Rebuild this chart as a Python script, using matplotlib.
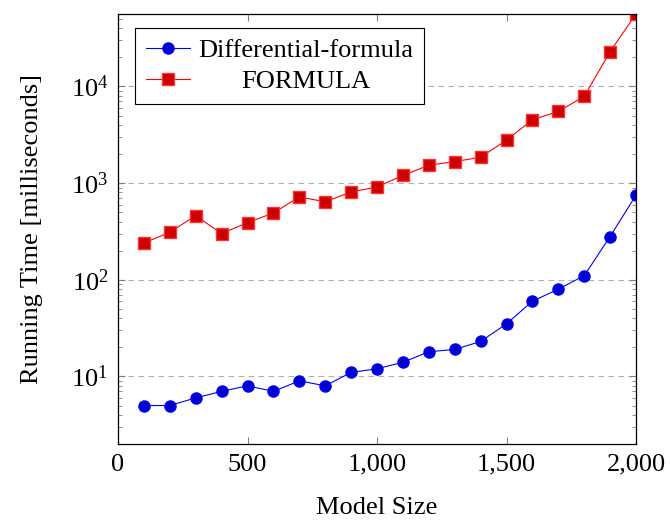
import numpy as np
import matplotlib.pyplot as plt
import matplotlib.ticker as mticker

plt.rcParams['font.family'] = ['Liberation Serif', 'DejaVu Serif']
plt.rcParams['mathtext.fontset'] = 'stix'

model_size = [100, 200, 300, 400, 500, 600, 700, 800, 900, 1000,
              1100, 1200, 1300, 1400, 1500, 1600, 1700, 1800, 1900, 2000]
diff_formula = [5, 5, 6, 7, 8, 7, 9, 8, 11, 12,
                14, 18, 19, 23, 35, 60, 80, 110, 280, 750]
formula = [240, 310, 460, 300, 390, 490, 720, 640, 810, 910,
           1200, 1530, 1670, 1850, 2780, 4520, 5510, 7870, 22900, 56100]

fs = 19

fig = plt.figure(figsize=(6.7, 5.2), dpi=100)
ax = fig.add_axes([118 / 670, 76 / 520, 518 / 670, 430 / 520])

ax.plot(model_size, diff_formula, '-o', color='#0000ff', lw=0.8,
        markerfacecolor='#0000cc', markeredgecolor='#0000ff', markersize=8,
        label='Differential-formula')
ax.plot(model_size, formula, '-s', color='#ff0000', lw=0.8,
        markerfacecolor='#cc0000', markeredgecolor='#ff3333', markersize=8.5,
        label='FORMULA')

ax.set_yscale('log')
ax.set_xlim(0, 2000)
ax.set_ylim(2, 56100)
ax.set_xticks([0, 500, 1000, 1500, 2000])
ax.xaxis.set_major_formatter(mticker.FuncFormatter(lambda v, p: f'{int(v):,}'))
ax.yaxis.set_major_locator(mticker.LogLocator(base=10))
ax.yaxis.set_minor_locator(mticker.LogLocator(base=10, subs=np.arange(2, 10)))
ax.yaxis.set_minor_formatter(mticker.NullFormatter())

ax.grid(True, axis='y', which='major', linestyle=(0, (5, 4)), color='#b0b0b0', lw=0.8)
ax.tick_params(which='both', direction='in', top=True, right=True,
               color='#808080', labelsize=fs)
ax.tick_params(which='major', length=5, pad=7)
ax.tick_params(which='minor', length=3)
for s in ax.spines.values():
    s.set_linewidth(0.9)

ax.set_xlabel('Model Size', fontsize=fs, labelpad=15)
ax.set_ylabel('Running Time [milliseconds]', fontsize=fs, labelpad=20)

leg = ax.legend(loc='upper left', bbox_to_anchor=(135 / 670, 492 / 520),
                bbox_transform=fig.transFigure, fontsize=fs, fancybox=False,
                edgecolor='black', framealpha=1, borderaxespad=0,
                handlelength=1.7, handletextpad=0.3,
                borderpad=0.4, labelspacing=0.3)
leg.get_frame().set_linewidth(0.8)

# center legend labels like the original
fig.canvas.draw()
renderer = fig.canvas.get_renderer()
widths = [t.get_window_extent(renderer).width for t in leg.get_texts()]
for t, w in zip(leg.get_texts(), widths):
    t.set_position(((max(widths) - w) / 2, 0))

fig.savefig('out.png', dpi=100)
